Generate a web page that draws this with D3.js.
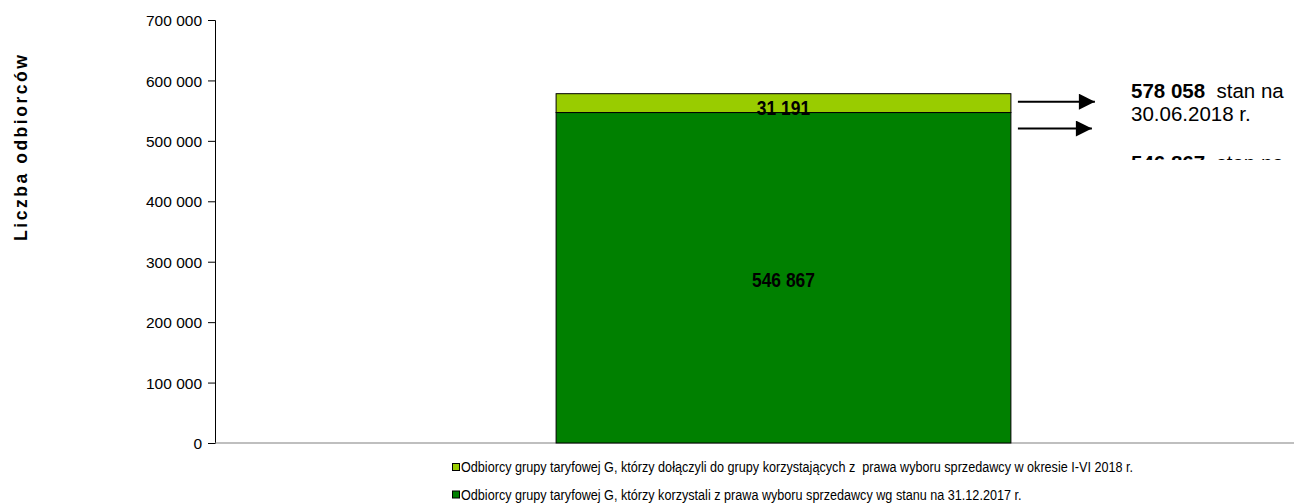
<!DOCTYPE html>
<html>
<head>
<meta charset="utf-8">
<script src="https://cdn.jsdelivr.net/npm/d3@7"></script>
<style>
  body { margin: 0; background: #fff; }
  svg { display: block; }
</style>
</head>
<body>
<div id="chart"></div>
<script>
// data
let categories = ["2018"];
let seriesNames = [
  "Odbiorcy grupy taryfowej G, którzy korzystali z prawa wyboru sprzedawcy wg stanu na 31.12.2017 r.",
  "Odbiorcy grupy taryfowej G, którzy dołączyli do grupy korzystających z  prawa wyboru sprzedawcy w okresie I-VI 2018 r."
];
let baseValues = [546867];
let addedValues = [31191];
let yTicks = [0, 100000, 200000, 300000, 400000, 500000, 600000, 700000];
let notes = [
  { bold: "578 058", rest: "  stan na", line2: "30.06.2018 r." },
  { bold: "546 867", rest: "  stan na", line2: "31.12.2017 r." }
];

let width = 1294, height = 504;
let margin = { left: 215, top: 20, bottom: 61 };
let plotW = 1137;
let sans = "'Liberation Sans', Arial, sans-serif";

let svg = d3.select("#chart")
  .append("svg")
  .attr("width", width)
  .attr("height", height);

let g = svg.append("g")
  .attr("transform", `translate(${margin.left},${margin.top})`);

let innerH = height - margin.top - margin.bottom;

let x = d3.scaleBand().domain(categories).range([0, plotW])
  .paddingInner(0.6).paddingOuter(0.3);
let y = d3.scaleLinear().domain([0, 700000]).range([innerH, 0]);

let fmt = v => d3.format(",")(v).replace(/,/g, " ");

// y axis
let yAxis = g.append("g")
  .call(d3.axisLeft(y).tickValues(yTicks).tickSize(7).tickPadding(6).tickFormat(fmt));
yAxis.select(".domain").attr("stroke", "#000");
yAxis.selectAll(".tick line").attr("stroke", "#000");
yAxis.selectAll(".tick text")
  .attr("dy", "0.36em")
  .style("font-family", sans)
  .style("font-size", "15.5px")
  .style("fill", "#000");

// x axis line
g.append("line")
  .attr("x1", 0).attr("x2", plotW)
  .attr("y1", y(0)).attr("y2", y(0))
  .attr("stroke", "#808080")
  .attr("stroke-width", 1.2);

// stacked bars
let colors = ["#008000", "#99cc00"];
let rows = categories.map((c, i) => ({ cat: c, base: baseValues[i], added: addedValues[i] }));
let stack = d3.stack().keys(["base", "added"])(rows);

stack.forEach((layer, li) => {
  g.selectAll(".bar" + li)
    .data(layer)
    .enter()
    .append("rect")
    .attr("x", d => x(d.data.cat))
    .attr("y", d => y(d[1]))
    .attr("width", x.bandwidth())
    .attr("height", d => y(d[0]) - y(d[1]))
    .attr("fill", colors[li])
    .attr("stroke", "#000")
    .attr("stroke-width", 1);
});

// value labels (condensed bold)
stack.forEach((layer, li) => {
  g.selectAll(".lab" + li)
    .data(layer)
    .enter()
    .append("text")
    .attr("x", d => x(d.data.cat) + x.bandwidth() / 2)
    .attr("y", d => li === 0 ? (y(d[0]) + y(d[1])) / 2 + 9 : y(d[1]) + 21)
    .attr("text-anchor", "middle")
    .style("font-family", sans)
    .style("font-weight", "bold")
    .style("font-size", "21px")
    .text(d => fmt(d[1] - d[0]))
    .each(function() {
      let len = this.getComputedTextLength();
      d3.select(this).attr("textLength", len * 0.83).attr("lengthAdjust", "spacingAndGlyphs");
    });
});

// arrows
let defs = svg.append("defs");
defs.append("marker")
  .attr("id", "arrow")
  .attr("viewBox", "0 0 10 10")
  .attr("refX", 10).attr("refY", 5)
  .attr("markerWidth", 8.5).attr("markerHeight", 8)
  .attr("markerUnits", "strokeWidth")
  .attr("orient", "auto")
  .append("path")
  .attr("d", "M0,0 L10,5 L0,10 z")
  .attr("fill", "#000");

let barRight = margin.left + x(categories[0]) + x.bandwidth();
let topY = margin.top + y(baseValues[0] + addedValues[0]);
let baseY = margin.top + y(baseValues[0]);
[[topY + 8, 84], [baseY + 16, 81]].forEach(([ay, len]) => {
  svg.append("line")
    .attr("x1", barRight + 7).attr("x2", barRight + len)
    .attr("y1", ay).attr("y2", ay)
    .attr("stroke", "#000")
    .attr("stroke-width", 2)
    .attr("marker-end", "url(#arrow)");
});

// annotation text box (clipped like the original)
defs.append("clipPath").attr("id", "noteClip")
  .append("rect").attr("x", 1125).attr("y", 70).attr("width", 180).attr("height", 90);

let noteG = svg.append("g").attr("clip-path", "url(#noteClip)")
  .style("font-family", sans)
  .style("font-size", "20.5px");

notes.forEach((n, i) => {
  let t = noteG.append("text").attr("x", 1131).attr("y", 98 + i * 72);
  t.append("tspan").style("font-weight", "bold").text(n.bold);
  t.append("tspan").attr("xml:space", "preserve").style("white-space", "pre").text(n.rest);
  noteG.append("text").attr("x", 1131).attr("y", 121 + i * 72).text(n.line2);
});

// y axis title
svg.append("text")
  .attr("transform", "translate(27,148) rotate(-90)")
  .attr("text-anchor", "middle")
  .attr("textLength", 186)
  .attr("lengthAdjust", "spacing")
  .style("font-family", sans)
  .style("font-weight", "bold")
  .style("font-size", "17.5px")
  .text("Liczba odbiorców");

// legend (light green first), condensed text
let legend = svg.append("g")
  .style("font-family", sans)
  .style("font-size", "14px");
let squeeze = null;
[1, 0].forEach((si, k) => {
  let ly = 467 + k * 27.5;
  legend.append("rect")
    .attr("x", 452.5).attr("y", ly - 3.5)
    .attr("width", 7).attr("height", 7)
    .attr("fill", colors[si])
    .attr("stroke", "#000")
    .attr("stroke-width", 1);
  let t = legend.append("text")
    .attr("x", 461).attr("y", ly + 5)
    .attr("xml:space", "preserve")
    .style("white-space", "pre")
    .text(seriesNames[si]);
  let len = t.node().getComputedTextLength();
  if (squeeze === null) squeeze = 672 / len;
  t.attr("textLength", len * squeeze).attr("lengthAdjust", "spacingAndGlyphs");
});
</script>
</body>
</html>
